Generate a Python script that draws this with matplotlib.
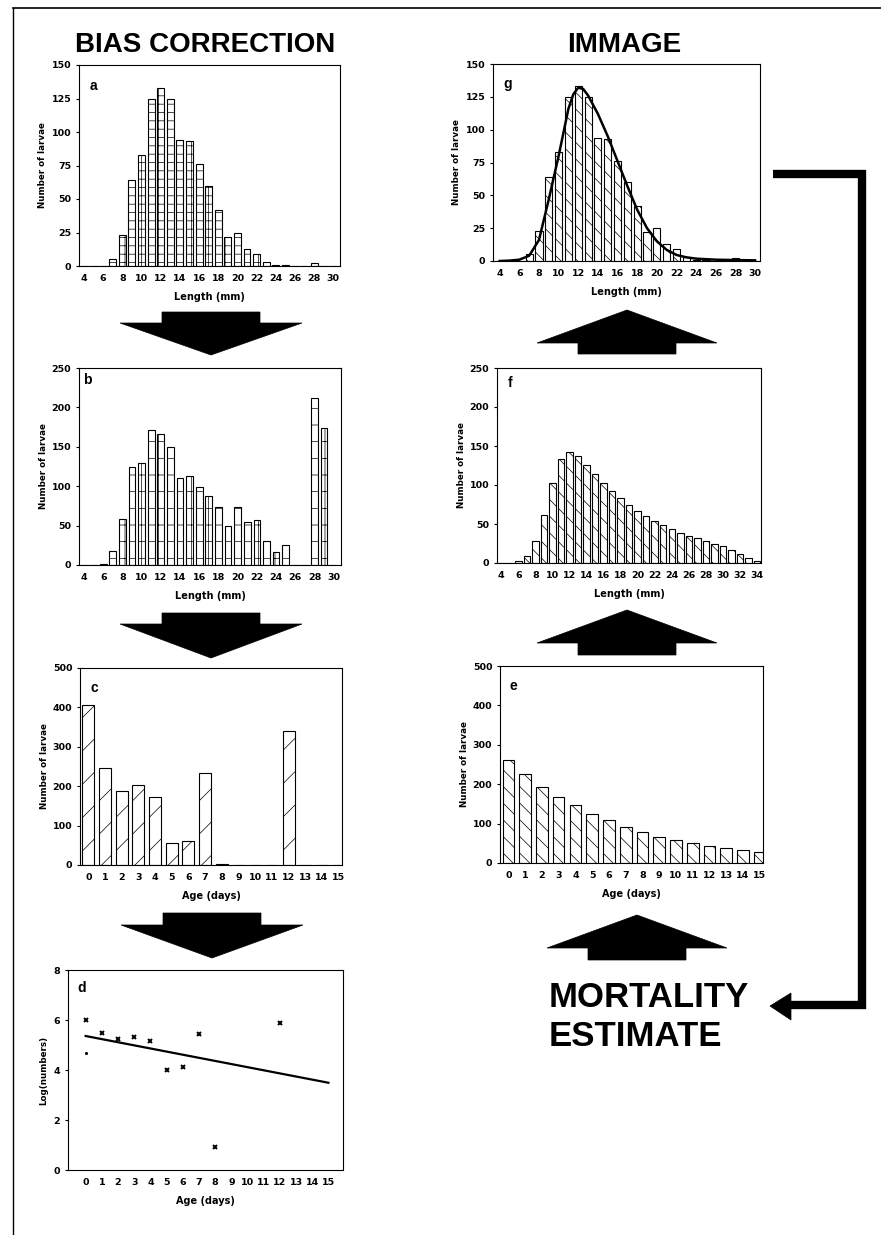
import matplotlib
matplotlib.use("Agg")
import matplotlib.pyplot as plt
from matplotlib.patches import Polygon
from matplotlib.lines import Line2D

W, H = 881, 1235

# ---------------- data ----------------
length_30 = list(range(4, 31))
length_34 = list(range(4, 35))
ages = list(range(0, 16))

counts_a = [0, 0, 0, 5, 23, 64, 83, 125, 133, 125, 94, 93, 76, 60, 42, 22, 25,
            13, 9, 3, 1, 1, 0, 0, 2, 0, 0]
counts_b = [0, 0, 1, 18, 58, 124, 130, 171, 166, 150, 111, 113, 99, 88, 73, 49,
            74, 55, 57, 30, 17, 25, 0, 0, 212, 174, 0]
counts_g = counts_a
counts_f = [0, 0.5, 2, 8.5, 28, 62, 103, 133, 142, 137, 126, 114, 102, 92, 83,
            75, 67, 60, 54, 49, 44, 39, 35, 32, 28, 25, 22, 17, 12, 6, 3]
counts_c = [405, 247, 188, 202, 172, 55, 62, 234, 2, 0, 0, 0, 341, 0, 0, 0]
counts_e = [262, 225, 194, 167, 146, 125, 108, 92, 79, 67, 58, 51, 44, 38, 33, 27]

curve_x = [4, 5, 6, 7, 8, 9, 10, 11, 11.5, 12, 12.5, 13, 14, 15, 16, 17, 18, 19,
           20, 21, 22, 23, 24, 26, 28, 30]
curve_y = [0, 0.3, 1, 4, 16, 47, 80, 116, 127, 132, 131, 126, 112, 95, 76, 57,
           39, 25, 15, 8.5, 4.6, 2.8, 1.8, 1.0, 0.7, 0.5]

log_age = [0, 1, 2, 3, 4, 5, 6, 7, 8, 12]
log_num = [6.0, 5.49, 5.24, 5.32, 5.16, 4.0, 4.13, 5.45, 0.93, 5.87]
stray_age = [0]
stray_num = [4.67]
fit_age = [0, 15]
fit_num = [5.36, 3.49]

ticks_len30 = list(range(4, 31, 2))
ticks_len34 = list(range(4, 35, 2))
ticks_age = list(range(0, 16))

# ---------------- figure ----------------
plt.rcParams['hatch.linewidth'] = 0.5
fig = plt.figure(figsize=(W / 100, H / 100), dpi=100)
fig.patch.set_facecolor('white')

TICKFONT = dict(family='DejaVu Sans', weight='bold', size=6.8)
LABFONT = dict(family='DejaVu Sans', weight='bold')


def fx(x):
    return x / W


def fy(y):
    return 1 - y / H


def make_ax(l, t, r, b):
    return fig.add_axes([fx(l), fy(b), (r - l) / W, (b - t) / H])


def style(ax, xlim, ylim, xticks, yticks, xlabel, ylabel, ylabpad=3):
    ax.set_xlim(*xlim)
    ax.set_ylim(*ylim)
    ax.set_xticks(xticks)
    ax.set_yticks(yticks)
    ax.set_xticklabels([str(t) for t in xticks], fontdict=TICKFONT)
    ax.set_yticklabels([str(t) for t in yticks], fontdict=TICKFONT)
    ax.tick_params(axis='x', length=0, pad=6)
    ax.tick_params(axis='y', length=2.5, width=0.8, pad=3, direction='out')
    for s in ax.spines.values():
        s.set_linewidth(0.8)
    ax.set_xlabel(xlabel, fontsize=7.0, labelpad=6, **LABFONT)
    ax.set_ylabel(ylabel, fontsize=6.3, labelpad=ylabpad, **LABFONT)


def bars(ax, x, h, width, hatch):
    ax.bar(x, h, width=width, color='white', edgecolor='black',
           linewidth=0.8, hatch=hatch, zorder=2)


# Panel a
ax_a = make_ax(79, 65, 340, 266)
bars(ax_a, length_30, counts_a, 0.72, '--|')
style(ax_a, (3.48, 30.7), (0, 150), ticks_len30, list(range(0, 151, 25)),
      'Length (mm)', 'Number of larvae')

# Panel b
ax_b = make_ax(79, 368, 341, 565)
bars(ax_b, length_30, counts_b, 0.7, '-|')
style(ax_b, (3.48, 30.76), (0, 250), ticks_len30, list(range(0, 251, 50)),
      'Length (mm)', 'Number of larvae')

# Panel c
ax_c = make_ax(80, 668, 342, 865)
bars(ax_c, ages, counts_c, 0.72, '/')
style(ax_c, (-0.5, 15.2), (0, 500), ticks_age, list(range(0, 501, 100)),
      'Age (days)', 'Number of larvae')

# Panel d
ax_d = make_ax(68, 970, 343, 1170)
ax_d.plot(log_age, log_num, linestyle='none', marker='x', ms=3.5, mew=1.4,
          color='black')
ax_d.plot(stray_age, stray_num, linestyle='none', marker='.', ms=2.5,
          color='black')
ax_d.plot(fit_age, fit_num, color='black', lw=1.6)
style(ax_d, (-1.09, 15.9), (0, 8), ticks_age, list(range(0, 9, 2)),
      'Age (days)', 'Log(numbers)', ylabpad=4)

# Panel g
ax_g = make_ax(493, 64, 760, 261)
bars(ax_g, length_30, counts_g, 0.72, '\\\\')
ax_g.plot(curve_x, curve_y, color='black', lw=1.8, zorder=3)
style(ax_g, (3.32, 30.5), (0, 150), ticks_len30, list(range(0, 151, 25)),
      'Length (mm)', 'Number of larvae')

# Panel f
ax_f = make_ax(497, 368, 761, 563)
bars(ax_f, length_34, counts_f, 0.76, '\\\\')
style(ax_f, (3.49, 34.47), (0, 250), ticks_len34, list(range(0, 251, 50)),
      'Length (mm)', 'Number of larvae')

# Panel e
ax_e = make_ax(500, 666, 763, 863)
bars(ax_e, ages, counts_e, 0.7, '\\\\')
style(ax_e, (-0.5, 15.2), (0, 500), ticks_age, list(range(0, 501, 100)),
      'Age (days)', 'Number of larvae')

# panel letters
for letter, (x, y) in {'a': (93, 86), 'b': (87, 380), 'c': (94, 688),
                       'd': (82, 988), 'e': (513, 686), 'f': (510, 383),
                       'g': (508, 84)}.items():
    fig.text(fx(x), fy(y), letter, ha='center', va='center', fontsize=10,
             fontweight='bold', family='Liberation Sans')

# titles
fig.text(fx(205), fy(52), 'BIAS CORRECTION', ha='center', va='baseline',
         fontsize=20, fontweight='bold', family='Liberation Sans')
fig.text(fx(624), fy(52), 'IMMAGE', ha='center', va='baseline',
         fontsize=20, fontweight='bold', family='Liberation Sans')
fig.text(fx(549), fy(1007), 'MORTALITY', ha='left', va='baseline',
         fontsize=25, fontweight='bold', family='Liberation Sans')
fig.text(fx(549), fy(1046), 'ESTIMATE', ha='left', va='baseline',
         fontsize=25, fontweight='bold', family='Liberation Sans')


# arrows
def down_arrow(cx, rtop, base, tip, rhalf=49, bhalf=91):
    pts = [(cx - rhalf, rtop), (cx + rhalf, rtop), (cx + rhalf, base),
           (cx + bhalf, base), (cx, tip), (cx - bhalf, base), (cx - rhalf, base)]
    fig.add_artist(Polygon([(fx(x), fy(y)) for x, y in pts], closed=True,
                           transform=fig.transFigure, facecolor='black',
                           edgecolor='black', lw=0.5))


def up_arrow(cx, rbot, base, tip, rhalf=49, bhalf=90):
    pts = [(cx - rhalf, rbot), (cx + rhalf, rbot), (cx + rhalf, base),
           (cx + bhalf, base), (cx, tip), (cx - bhalf, base), (cx - rhalf, base)]
    fig.add_artist(Polygon([(fx(x), fy(y)) for x, y in pts], closed=True,
                           transform=fig.transFigure, facecolor='black',
                           edgecolor='black', lw=0.5))


down_arrow(211, 312, 323, 355)
down_arrow(211, 613, 624, 658)
down_arrow(212, 913, 925, 958)
up_arrow(627, 354, 343, 310)
up_arrow(627, 655, 643, 610)
up_arrow(637, 960, 948, 915)

# feedback bracket arrow
lw_br = 6.0
fig.add_artist(Line2D([fx(773), fx(862), fx(862), fx(788)],
                      [fy(174), fy(174), fy(1005), fy(1005)],
                      transform=fig.transFigure, color='black', lw=lw_br,
                      solid_joinstyle='miter', solid_capstyle='butt'))
head = [(770, 1006), (791, 993), (791, 1020)]
fig.add_artist(Polygon([(fx(x), fy(y)) for x, y in head], closed=True,
                       transform=fig.transFigure, facecolor='black',
                       edgecolor='black', lw=0.5))

# page frame
fig.add_artist(Line2D([fx(13), fx(13)], [fy(8), fy(1235)],
                      transform=fig.transFigure, color='black', lw=1.0))
fig.add_artist(Line2D([fx(13), fx(881)], [fy(8), fy(8)],
                      transform=fig.transFigure, color='black', lw=1.2))

fig.savefig('out.png', dpi=100, facecolor='white')
